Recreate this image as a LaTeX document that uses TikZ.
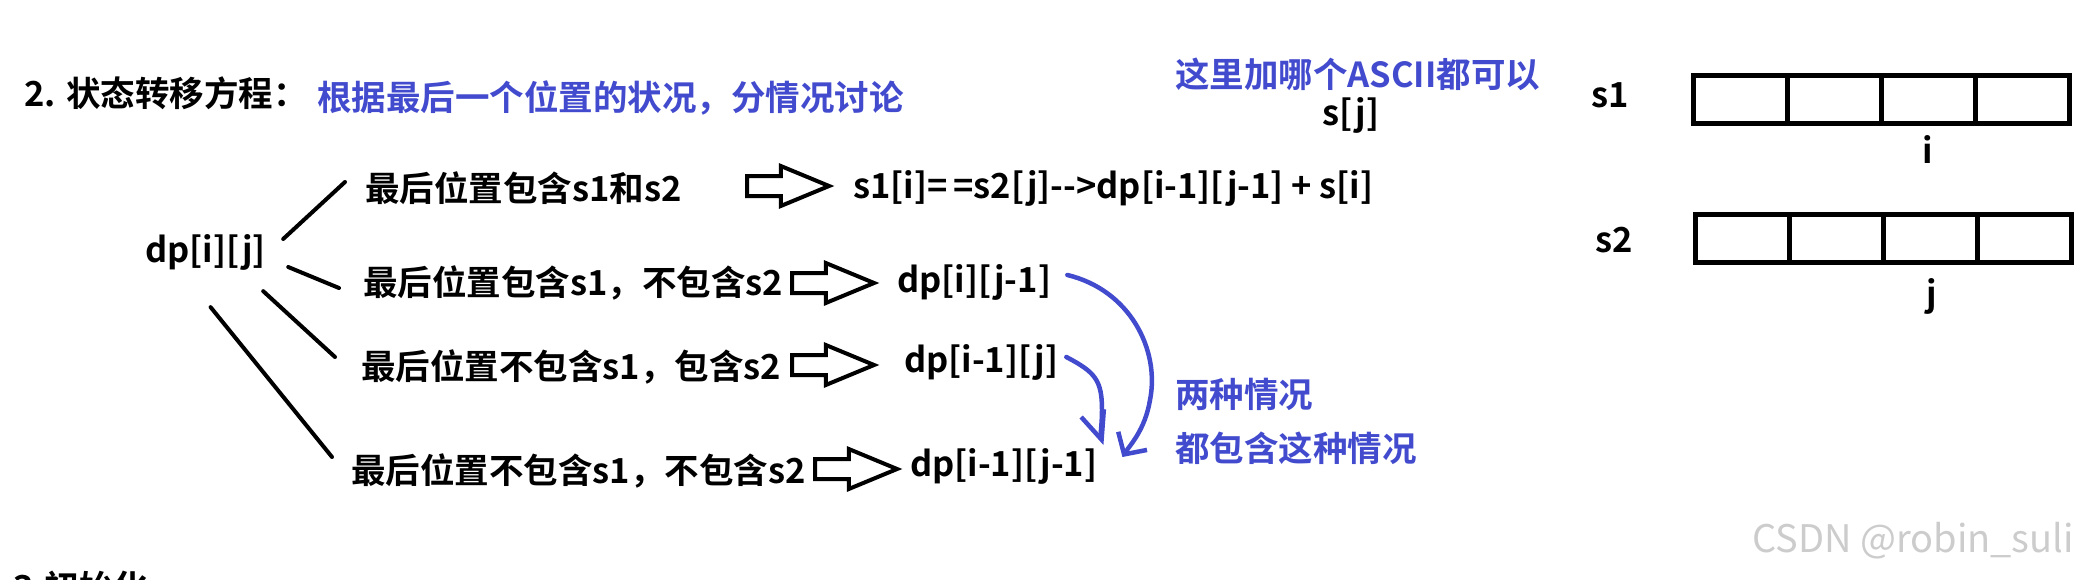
\documentclass[tikz,border=0pt]{standalone}
\usepackage{fontspec}
\setmainfont{Noto Sans CJK SC}[BoldFont={Noto Sans CJK SC Bold}]
\usetikzlibrary{positioning,arrows.meta,calc,shapes.arrows}
\definecolor{penblue}{RGB}{66,74,206}
\tikzset{
  txt/.style={anchor=west, inner sep=0pt, font=\fontsize{34.5}{41}\selectfont\bfseries, text=black},
  bluetxt/.style={txt, text=penblue},
  branch/.style={line width=4pt, line cap=round},
  hollowarrow/.style={single arrow, draw, line width=4pt, fill=white, minimum height=82pt, inner xsep=0pt, inner ysep=8pt, text height=0pt, text depth=0pt, single arrow head extend=10pt, single arrow tip angle=45},
  cellbox/.style={draw, line width=5pt, minimum width=94pt, minimum height=48pt, inner sep=0pt},
  penline/.style={draw=penblue, line width=4.5pt, line cap=round, line join=round}
}

\begin{document}
\begin{tikzpicture}[x=1pt, y=-1pt]
  \clip (0,0) rectangle (2078,579);
  \fill[white] (0,0) rectangle (2078,579);

  % headings
  \node[txt] (head) at (24,93) {2. 状态转移方程：};
  \node[bluetxt] (sub) at (317,98) {根据最后一个位置的状况，分情况讨论};
  \node[bluetxt] (ascii) at (1175,74) {这里加哪个ASCII都可以};
  \node[txt] (sj) at (1322,115) {s[j]};

  % the four cases
  \node[txt] (dp) at (145,252) {dp[i][j]};
  \node[txt] (b1) at (365,188) {最后位置包含s1和s2};
  \node[txt] (b2) at (363,283) {最后位置包含s1，不包含s2};
  \node[txt] (b3) at (361,367) {最后位置不包含s1，包含s2};
  \node[txt] (b4) at (351,471) {最后位置不包含s1，不包含s2};

  \draw[branch] ($(dp.east)+(17,-13)$) -- ($(b1.west)+(-20,-6)$);
  \draw[branch] ($(dp.east)+(22,15)$) -- ($(b2.west)+(-24,5)$);
  \draw[branch] ($(dp.south east)+(-3,21)$) -- ($(b3.west)+(-26,-10)$);
  \draw[branch] ($(dp.south)+(5,37)$) -- ($(b4.west)+(-19,-14)$);

  \node[hollowarrow] (a1) at (776,186) {};
  \node[hollowarrow] (a2) at (821,283) {};
  \node[hollowarrow] (a3) at (821,365) {};
  \node[hollowarrow] (a4) at (844,469) {};

  \node[txt] (f1) at (853,188) {s1[i]=\,=s2[j]{-}{-}>dp[i-1][j-1] + s[i]};
  \node[txt] (r2) at (897,282) {dp[i][j-1]};
  \node[txt] (r3) at (904,362) {dp[i-1][j]};
  \node[txt] (r4) at (910,466) {dp[i-1][j-1]};

  % hand drawn notes
  \draw[penline, -{Straight Barb[length=16pt, width=34pt]}] ($(r2.east)+(16,-7)$)
    .. controls (1130,290) and (1160,350) .. (1150,400)
    .. controls (1145,430) and (1130,445) .. ($(r4.east)+(25,-9)$);
  \draw[penline, -{Straight Barb[length=28pt, width=24pt]}] ($(r3.east)+(8,-5)$)
    .. controls (1095,372) and (1102,380) .. (1102,410)
    .. controls (1102,425) and (1100,435) .. ($(r4.east)+(6,-21)$);
  \node[bluetxt] (n1) at (1175,394) {两种情况};
  \node[bluetxt] (n2) at (1175,448) {都包含这种情况};

  % the two strings
  \node[txt, anchor=center] (s1) at (1610,95) {s1};
  \node[txt, anchor=center] (s2) at (1614,240) {s2};
  \foreach \k in {1,...,4} {
    \node[cellbox] (sa\k) at ({1740+94*(\k-1)},99) {};
    \node[cellbox] (sb\k) at ({1742+94*(\k-1)},238) {};
  }
  \node[txt, anchor=center] (pi) at (1928,150) {i};
  \node[txt, anchor=center] (pj) at (1932,296) {j};

  \node[anchor=west, inner sep=0pt, font=\fontsize{38}{44}\selectfont, text=gray!40] (wm) at (1752,541) {CSDN @robin\_suli};
  \node[txt] (next) at (13,587) {3.初始化};
\end{tikzpicture}
\end{document}
